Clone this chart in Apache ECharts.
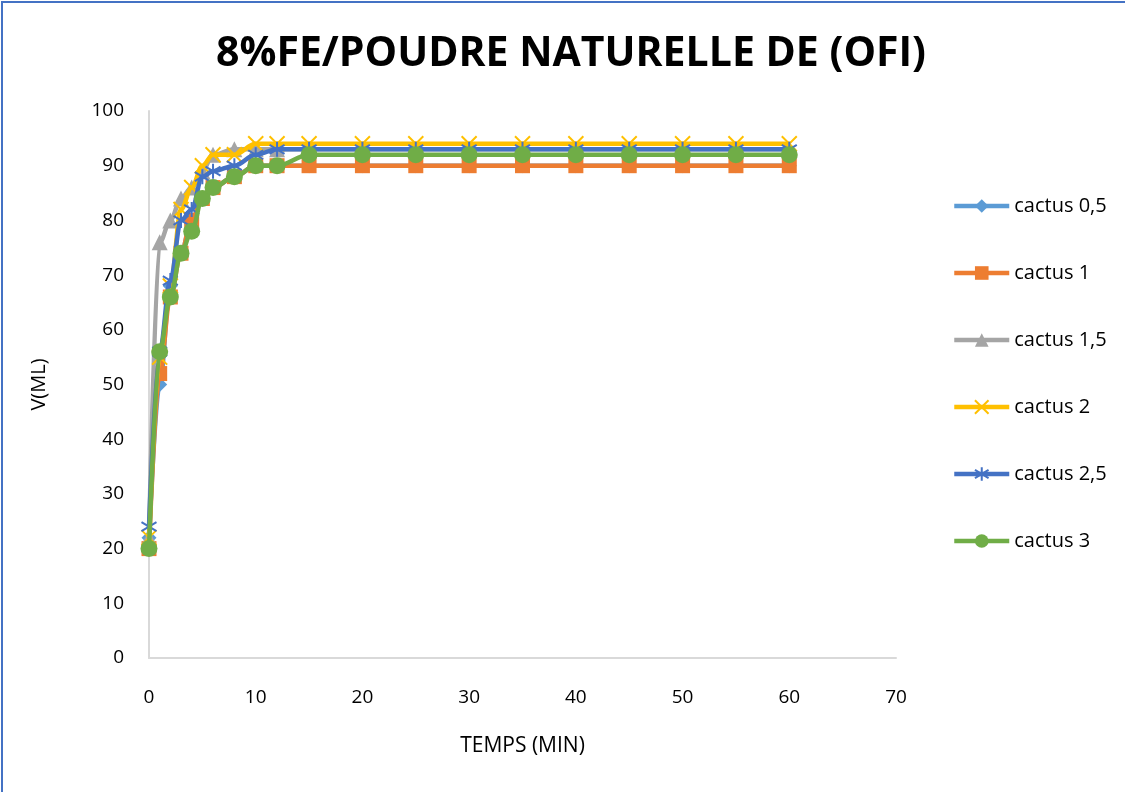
<!DOCTYPE html>
<html>
<head>
<meta charset="utf-8">
<script src="https://cdn.jsdelivr.net/npm/echarts@6/dist/echarts.min.js"></script>
<style>
  html, body { margin: 0; padding: 0; background: #fff; }
  #chart { width: 1125px; height: 792px; }
  #frame { position: absolute; left: 1px; top: 1px; width: 1130px; height: 800px;
           border-left: 2px solid #4472C4; border-top: 2px solid #4472C4; pointer-events: none; }
</style>
</head>
<body>
<div id="chart"></div>
<div id="frame"></div>
<script>
// Time (min) at which each volume was read
const temps = [0, 1, 2, 3, 4, 5, 6, 8, 10, 12, 15, 20, 25, 30, 35, 40, 45, 50, 55, 60];

// Settled volume V (mL) for each cactus dose
const cactus05 = [22, 50, 68, 74, 80, 84, 86, 88, 90, 90, 90, 90, 90, 90, 90, 90, 90, 90, 90, 90];
const cactus1  = [20, 52, 66, 74, 80, 84, 86, 88, 90, 90, 90, 90, 90, 90, 90, 90, 90, 90, 90, 90];
const cactus15 = [22, 76, 80, 84, 86, 89, 92, 93, 93, 93, 93, 93, 93, 93, 93, 93, 93, 93, 93, 93];
const cactus2  = [22, 55, 68, 82, 86, 90, 92, 92, 94, 94, 94, 94, 94, 94, 94, 94, 94, 94, 94, 94];
const cactus25 = [24, 56, 69, 80, 82, 88, 89, 90, 92, 93, 93, 93, 93, 93, 93, 93, 93, 93, 93, 93];
const cactus3  = [20, 56, 66, 74, 78, 84, 86, 88, 90, 90, 92, 92, 92, 92, 92, 92, 92, 92, 92, 92];

const seriesNames = ['cactus 0,5', 'cactus 1', 'cactus 1,5', 'cactus 2', 'cactus 2,5', 'cactus 3'];
const seriesValues = [cactus05, cactus1, cactus15, cactus2, cactus25, cactus3];
const seriesColors = ['#5B9BD5', '#ED7D31', '#A5A5A5', '#FFC000', '#4472C4', '#70AD47'];

// Marker shapes: diamond, square, triangle, cross (x), asterisk, circle
const crossPath = 'path://M0,0 L10,10 M10,0 L0,10';
const starPath = 'path://M5,0 L5,10 M0,2 L10,8 M0,8 L10,2';
const seriesSymbols = ['diamond', 'rect', 'triangle', crossPath, starPath, 'circle'];
const seriesSymbolSizes = [15, 15, 16, 15, 15, 17];

const FONT = '"Open Sans", "Liberation Sans", sans-serif';

const series = seriesNames.map((name, i) => {
  const isStroke = i === 3 || i === 4;
  return {
    name: name,
    type: 'line',
    data: temps.map((t, k) => [t, seriesValues[i][k]]),
    smooth: 0.35,
    smoothMonotone: 'x',
    symbol: seriesSymbols[i],
    symbolSize: seriesSymbolSizes[i],
    showAllSymbol: true,
    lineStyle: { color: seriesColors[i], width: 4.5 },
    itemStyle: isStroke
      ? { color: 'rgba(0,0,0,0)', borderColor: seriesColors[i], borderWidth: 2 }
      : { color: seriesColors[i], borderWidth: 0 },
    emphasis: { disabled: true },
    z: 2 + i
  };
});

const chart = echarts.init(document.getElementById('chart'), null, { renderer: 'canvas' });
chart.setOption({
  animation: false,
  backgroundColor: '#fff',
  title: {
    text: '8%FE/POUDRE NATURELLE DE (OFI)',
    left: 566,
    top: 29,
    textAlign: 'center',
    textStyle: { fontFamily: FONT, fontWeight: 'bold', fontSize: 41, color: '#000' }
  },
  legend: {
    orient: 'vertical',
    left: 947,
    top: 191,
    itemWidth: 55,
    itemHeight: 17,
    itemGap: 47,
    lineStyle: { width: 4.5 },
    textStyle: { fontFamily: FONT, fontSize: 20, color: '#000' },
    data: seriesNames
  },
  grid: { left: 149, right: 229, top: 111, bottom: 134, containLabel: false },
  xAxis: {
    type: 'value',
    min: 0, max: 70, interval: 10,
    name: 'TEMPS (MIN)',
    nameLocation: 'middle',
    nameGap: 78,
    nameTextStyle: { fontFamily: FONT, fontSize: 21, color: '#000' },
    axisLine: { show: true, lineStyle: { color: '#D9D9D9', width: 2 } },
    axisTick: { show: false },
    splitLine: { show: false },
    axisLabel: { fontFamily: FONT, fontSize: 19, color: '#000', margin: 30 }
  },
  yAxis: {
    type: 'value',
    min: 0, max: 100, interval: 10,
    name: 'V(ML)',
    nameLocation: 'middle',
    nameGap: 100,
    nameRotate: 90,
    nameTextStyle: { fontFamily: FONT, fontSize: 20, color: '#000' },
    axisLine: { show: true, lineStyle: { color: '#D9D9D9', width: 2 } },
    axisTick: { show: false },
    splitLine: { show: false },
    axisLabel: { fontFamily: FONT, fontSize: 19, color: '#000', margin: 25 }
  },
  series: series
});
</script>
</body>
</html>
